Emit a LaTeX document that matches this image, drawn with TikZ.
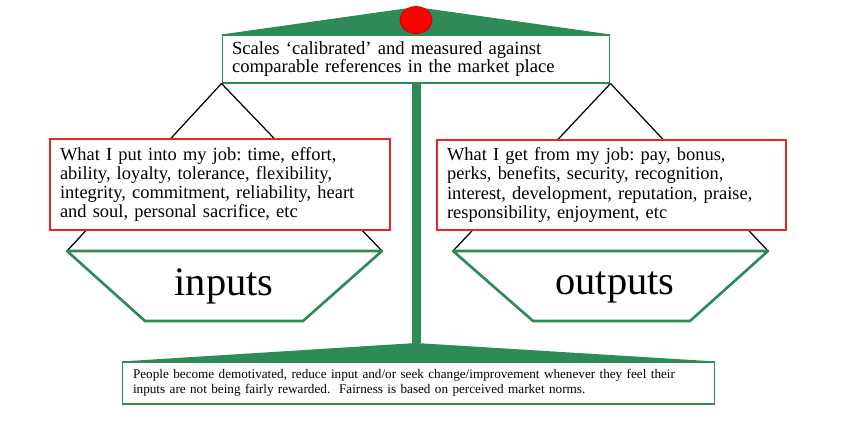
\documentclass[tikz,border=0pt]{standalone}
\usepackage{fontspec}
\setmainfont{Liberation Serif}
\usetikzlibrary{shapes.geometric}
\frenchspacing

\definecolor{scalegreen}{RGB}{46,139,87}
\definecolor{boxred}{RGB}{228,38,38}

\tikzset{
  notebox/.style={draw=scalegreen, fill=white, line width=0.6pt, align=left,
    inner xsep=0.2cm, inner ysep=0pt, font=\fontsize{10.6}{10.6}\selectfont},
  listbox/.style={draw=boxred, fill=white, line width=0.9pt, align=left,
    inner xsep=0.2cm, inner ysep=0pt, font=\fontsize{10.5}{10.9}\selectfont},
  pan/.style={draw=scalegreen, fill=white, line width=1.5pt, line join=round},
  panlabel/.style={anchor=base, inner sep=0pt, font=\fontsize{23}{23}\selectfont},
}

\begin{document}
\begin{tikzpicture}[x=0.02cm, y=-0.02cm]
	\useasboundingbox (0,0) rectangle (851,435);
	
	% Define the beam box at the top
	\node[notebox, text width=7.36cm, minimum height=0.96cm] (top) at (416,59)
	{Scales `calibrated' and measured against\\ comparable references in the market place};
	\coordinate (peak) at (416,7);
	\fill[scalegreen] (top.north west) -- (peak) -- (top.north east) -- cycle;
	\node[ellipse, fill=red, draw=red!75!black, line width=0.4pt,
	  minimum width=0.64cm, minimum height=0.54cm] (pivot) at (416,20) {};
	
	% Define the pan corners for the left side (L) and right side (R)
	\coordinate (L1) at (67,251);  \coordinate (L2) at (382,251);
	\coordinate (L3) at (303,321); \coordinate (L4) at (145,321);
	\coordinate (R1) at (453,251); \coordinate (R2) at (768,251);
	\coordinate (R3) at (690,321); \coordinate (R4) at (533,321);
	
	% Draw the strings from the beam to the pans
	\foreach \c/\p in {south west/L, south east/R}
	\foreach \k in {1,2}
	\draw[line width=0.7pt] (top.\c) -- (\p\k);
	
	% Define the boxes hanging on the strings
	\node[listbox, text width=6.4cm, minimum height=1.82cm] (give) at (220,184.5)
	{What I put into my job: time, effort,\\ ability, loyalty, tolerance, flexibility,\\
	 integrity, commitment, reliability, heart\\ and soul, personal sacrifice, etc};
	\node[listbox, text width=6.58cm, minimum height=1.8cm] (get) at (611.5,185)
	{What I get from my job: pay, bonus,\\ perks, benefits, security, recognition,\\
	 interest, development, reputation, praise,\\ responsibility, enjoyment, etc};
	
	% Draw the pans
	\foreach \p in {L,R}
	\draw[pan] (\p1) -- (\p2) -- (\p3) -- (\p4) -- cycle;
	\node[panlabel] (inputs) at (224,296) {inputs};
	\node[panlabel] (outputs) at (615,295) {outputs};
	
	% Define the stand at the bottom
	\node[notebox, text width=11.42cm, minimum height=0.84cm, inner xsep=0.22cm,
	  font=\fontsize{7.5}{8.4}\selectfont] (base) at (418.5,383)
	{People become demotivated, reduce input and/or seek change/improvement whenever they feel their\\
	 inputs are not being fairly rewarded.\ \ Fairness is based on perceived market norms.};
	\coordinate (foot) at (416,343);
	\draw[scalegreen, line width=0.18cm] (top.south) -- (foot);
	\fill[scalegreen] (base.north west) -- (foot) -- (base.north east) -- cycle;
\end{tikzpicture}
\end{document}
